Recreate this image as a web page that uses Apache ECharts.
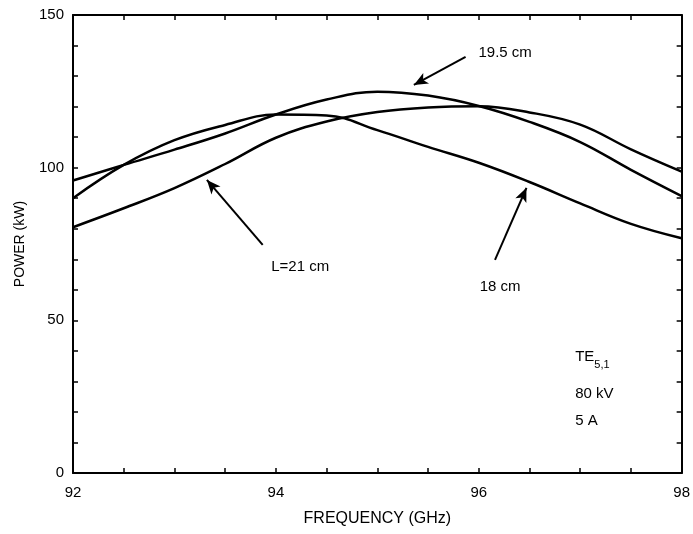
<!DOCTYPE html>
<html>
<head>
<meta charset="utf-8">
<script src="https://cdn.jsdelivr.net/npm/echarts@6/dist/echarts.min.js"></script>
<style>
html, body { margin: 0; padding: 0; background: #fff; }
#main { width: 693px; height: 534px; }
</style>
</head>
<body>
<div id="main"></div>
<script>
var freq     = [92, 92.5, 93, 93.5, 94, 94.5, 95, 95.5, 96, 96.5, 97, 97.5, 98];
var power21  = [80.5, 86.7, 93.3, 101.2, 109.8, 115.1, 118.2, 119.7, 120.1, 118.1, 114.1, 106.0, 98.7];
var power18  = [90.0, 100.9, 109.0, 114.0, 117.4, 117.1, 112.3, 106.8, 101.6, 95.3, 88.3, 81.6, 76.9];
var power195 = [95.8, 100.9, 105.9, 111.2, 117.4, 122.3, 124.9, 123.6, 120.2, 115.0, 108.4, 99.3, 90.7];

var xLabels = [92, 94, 96, 98];
var yLabels = [0, 50, 100, 150];

// arrows: from (x, y) to (x, y), in data units
var arrows = [
    [93.87, 74.7, 93.32, 96.0],
    [95.87, 136.3, 95.36, 127.1],
    [96.16, 69.8, 96.47, 93.4]
];
var notes = [
    [94.24, 67.5, 'L=21 cm'],
    [96.26, 137.6, '19.5 cm'],
    [96.21, 60.9, '18 cm']
];
var condNotes = [
    [96.95, 37.0, '{a|TE}{s|5,1}'],
    [96.95, 25.8, '80 kV'],
    [96.95, 17.2, '5 A']
];

var FONT = '"Liberation Sans", Arial, sans-serif';

function pairs(ys) {
    return freq.map(function (f, i) { return [f, ys[i]]; });
}

function curve(name, ys) {
    return {
        name: name,
        type: 'line',
        data: pairs(ys),
        smooth: 0.4,
        showSymbol: false,
        silent: true,
        lineStyle: { color: '#000', width: 2.5 }
    };
}

var myChart = echarts.init(document.getElementById('main'));

var tickStyle = { inside: true, length: 5, lineStyle: { color: '#000', width: 1.5 } };
var lineStyle = { show: true, onZero: false, lineStyle: { color: '#000', width: 2 } };

var arrowSeries = curve('L=21 cm', power21);
arrowSeries.markLine = {
    silent: true,
    animation: false,
    symbol: ['none', 'arrow'],
    symbolSize: [9, 14],
    label: { show: false },
    lineStyle: { color: '#000', width: 2, type: 'solid' },
    data: arrows.map(function (a) {
        return [{ coord: [a[0], a[1]] }, { coord: [a[2], a[3]] }];
    })
};

option = {
    animation: false,
    backgroundColor: '#fff',
    grid: { left: 73, right: 11, top: 15, bottom: 61 },
    xAxis: [
        {
            type: 'value', min: 92, max: 98, interval: 0.5, position: 'bottom',
            axisLine: lineStyle, axisTick: tickStyle, splitLine: { show: false },
            axisLabel: {
                margin: 12, color: '#000', fontSize: 15, fontFamily: FONT,
                formatter: function (v) { return xLabels.indexOf(v) >= 0 ? v : ''; }
            },
            name: 'FREQUENCY (GHz)', nameLocation: 'middle', nameGap: 38,
            nameTextStyle: { color: '#000', fontSize: 16, fontFamily: FONT }
        },
        {
            type: 'value', min: 92, max: 98, interval: 0.5, position: 'top',
            axisLine: lineStyle, axisTick: tickStyle, splitLine: { show: false },
            axisLabel: { show: false }
        }
    ],
    yAxis: [
        {
            type: 'value', min: 0, max: 150, interval: 10, position: 'left',
            axisLine: lineStyle, axisTick: tickStyle, splitLine: { show: false },
            axisLabel: {
                margin: 9, color: '#000', fontSize: 15, fontFamily: FONT,
                formatter: function (v) { return yLabels.indexOf(v) >= 0 ? v : ''; }
            },
            name: 'POWER (kW)', nameLocation: 'middle', nameGap: 46,
            nameTextStyle: { color: '#000', fontSize: 14, fontFamily: FONT }
        },
        {
            type: 'value', min: 0, max: 150, interval: 10, position: 'right',
            axisLine: lineStyle, axisTick: tickStyle, splitLine: { show: false },
            axisLabel: { show: false }
        }
    ],
    series: [
        arrowSeries,
        curve('18 cm', power18),
        curve('19.5 cm', power195),
        {
            type: 'scatter', silent: true, symbolSize: 0,
            itemStyle: { opacity: 1 },
            data: notes,
            label: {
                show: true, position: 'inside', color: '#000', fontSize: 15, fontFamily: FONT,
                formatter: function (p) { return p.value[2]; }
            }
        },
        {
            type: 'scatter', silent: true, symbolSize: 0,
            itemStyle: { opacity: 1 },
            data: condNotes,
            label: {
                show: true, position: 'right', distance: 0, color: '#000', fontSize: 15, fontFamily: FONT,
                formatter: function (p) { return p.value[2]; },
                rich: {
                    a: { fontSize: 15, fontFamily: FONT, color: '#000', verticalAlign: 'top' },
                    s: { fontSize: 11, fontFamily: FONT, color: '#000', padding: [10, 0, 0, 0] }
                }
            }
        }
    ]
};

myChart.setOption(option);
</script>
</body>
</html>
